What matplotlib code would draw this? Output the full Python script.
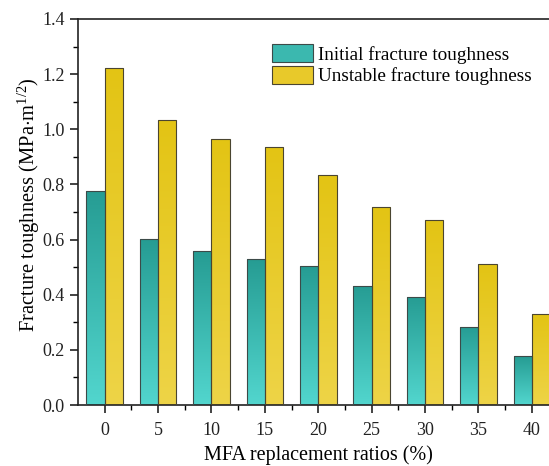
import numpy as np
import matplotlib
matplotlib.use("Agg")
import matplotlib.pyplot as plt
from matplotlib.colors import LinearSegmentedColormap
from matplotlib.ticker import MultipleLocator, FixedLocator
from matplotlib.patches import Patch

categories = ["0", "5", "10", "15", "20", "25", "30", "35", "40"]
initial = [0.777, 0.602, 0.558, 0.529, 0.504, 0.432, 0.393, 0.283, 0.177]
unstable = [1.223, 1.035, 0.965, 0.936, 0.834, 0.718, 0.671, 0.511, 0.330]
series_names = ["Initial fracture toughness", "Unstable fracture toughness"]

plt.rcParams['font.family'] = ['Liberation Serif', 'DejaVu Serif']
plt.rcParams['mathtext.fontset'] = 'custom'
plt.rcParams['mathtext.rm'] = 'Liberation Serif'
plt.rcParams['mathtext.it'] = 'Liberation Serif:italic'

fig = plt.figure(figsize=(5.49, 4.66), dpi=100)
ax = fig.add_axes([78/549, 61/466, 480.6/549, 386/466])

x = np.arange(len(categories))
w = 0.343
teal_cmap = LinearSegmentedColormap.from_list("teal", ["#52d6ce", "#269c93"])
yel_cmap = LinearSegmentedColormap.from_list("yel", ["#eed447", "#e3c414"])

b1 = ax.bar(x - w/2, initial, w, color="#3bb8af", edgecolor="#3c4a48", linewidth=0.8, label=series_names[0], zorder=2)
b2 = ax.bar(x + w/2, unstable, w, color="#e8c92a", edgecolor="#4a4530", linewidth=0.8, label=series_names[1], zorder=2)

grad = np.linspace(0, 1, 256).reshape(-1, 1)
for bars, cmap in ((b1, teal_cmap), (b2, yel_cmap)):
    for p in bars:
        x0, y0 = p.get_x(), p.get_y()
        ww, hh = p.get_width(), p.get_height()
        im = ax.imshow(grad, cmap=cmap, origin="lower", aspect="auto",
                       extent=[x0, x0 + ww, y0, y0 + hh], zorder=2.5)
        im.set_clip_path(p)
        p.set_facecolor("none")
        p.set_zorder(3)

ax.set_xlim(-0.5, 8.5)
ax.set_ylim(0, 1.4)
ax.set_xticks(x)
ax.set_xticklabels(categories)
ax.xaxis.set_minor_locator(FixedLocator(x[:-1] + 0.5))
ax.yaxis.set_major_locator(MultipleLocator(0.2))
ax.yaxis.set_minor_locator(MultipleLocator(0.1))
ax.yaxis.set_major_formatter(matplotlib.ticker.FormatStrFormatter('%.1f'))
ax.tick_params(which='major', direction='out', length=6, width=1.2, labelsize=13, colors='#222222')
ax.tick_params(which='minor', direction='out', length=3.5, width=1.0)
ax.tick_params(axis='x', pad=6)
for s in ax.spines.values():
    s.set_linewidth(1.2)
    s.set_color('#222222')

ax.set_xlabel("MFA replacement ratios (%)", fontsize=14.5, labelpad=4.5)
ax.set_ylabel(r"Fracture toughness (MPa$\cdot$m$^{1/2}$)", fontsize=14.8)
ax.yaxis.set_label_coords(-0.075, 0.52)

handles = [Patch(facecolor="#3bb8af", edgecolor="#3c4a48", linewidth=0.8),
           Patch(facecolor="#e8c92a", edgecolor="#4a4530", linewidth=0.8)]
ax.legend(handles, series_names, loc='upper left', bbox_to_anchor=(0.404, 0.935),
          frameon=False, fontsize=13.8, handlelength=2.14, handleheight=1.09,
          handletextpad=0.25, labelspacing=0.1, borderaxespad=0, borderpad=0)

fig.savefig("out.png", dpi=100)
